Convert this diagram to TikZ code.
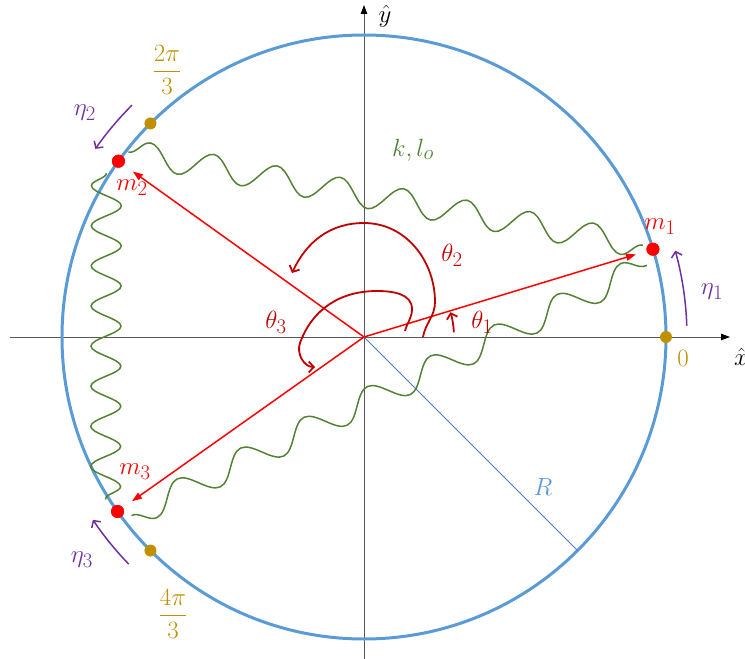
\documentclass[tikz,border=0pt]{standalone}
\usepackage{amsmath}
\usetikzlibrary{decorations.pathmorphing,arrows.meta,calc}
\definecolor{cblue}{HTML}{5B9BD5}
\definecolor{rblue}{HTML}{4A7FCB}
\definecolor{cgold}{HTML}{BF9000}
\definecolor{cred}{HTML}{FF0000}
\definecolor{cdred}{HTML}{C00000}
\definecolor{cgreen}{HTML}{548235}
\definecolor{cpurple}{HTML}{7030A0}
\definecolor{caxis}{HTML}{595959}
\tikzset{
  axisline/.style={draw=caxis, line width=0.8pt, -{Triangle[length=9pt,width=6.5pt,color=black]}},
  mass/.style={circle, fill=cred, inner sep=0pt, minimum size=13pt},
  goldpt/.style={circle, fill=cgold, inner sep=0pt, minimum size=12pt},
  vec/.style={draw=cred, line width=1.5pt, -{Triangle[length=10pt,width=7pt]}, shorten >=11pt},
  spring/.style={draw=cgreen, line width=1.5pt, decorate},
  angarc/.style={draw=cdred, line width=1.8pt, -{Straight Barb[length=5pt,width=11pt]}},
  etaarc/.style={draw=cpurple, line width=1.5pt, -{Straight Barb[length=5pt,width=11pt]}},
  lbl/.style={inner sep=0pt},
  fraclbl/.style={inner sep=0pt, font=\fontsize{24.88}{30}\selectfont},
}
\begin{document}
\begin{tikzpicture}[x=1pt,y=1pt,font=\fontsize{24.88}{30}\selectfont]
\useasboundingbox (-364,-322) rectangle (381,337);
% axes
\coordinate (O) at (0,0);
\coordinate (xl) at (-354,0);
\coordinate (xr) at (366,0);
\coordinate (yb) at (0,-330);
\coordinate (yt) at (0,332);
\draw[axisline] (xl) -- (xr);
\draw[axisline] (yb) -- (yt);
\node[lbl] (xhat) at (377,-20) {$\hat{x}$};
\node[lbl] (yhat) at (21,321) {$\hat{y}$};
% circle and radius
\draw[cblue, line width=3pt] (O) circle (302);
\coordinate (Rend) at (-45:302);
\draw[rblue, line width=0.8pt] (O) -- (Rend);
\node[lbl, text=cblue] (Rlab) at (179,-150) {$R$};
% reference points
\node[goldpt] (p0) at (0:302) {};
\node[goldpt] (p1) at (135:302) {};
\node[goldpt] (p2) at (225:302) {};
\node[lbl, text=cgold] (l0) at (319,-21) {$0$};
\node[fraclbl, text=cgold] (l1) at (-197,267) {$\dfrac{2\pi}{3}$};
\node[fraclbl, text=cgold] (l2) at (-191,-277) {$\dfrac{4\pi}{3}$};
% masses
\node[mass] (m1) at (16.9:302) {};
\node[mass] (m2) at (144.4:302) {};
\node[mass] (m3) at (215.3:302) {};
% springs
\draw[spring, decoration={snake, segment length=64.3pt, amplitude=13pt}]
  ($(m2)+(10,9)$) -- ($(m1)+(-10,4)$);
\draw[spring, decoration={snake, segment length=40.1pt, amplitude=15pt, mirror}]
  ($(m2)+(-12,-12)$) -- ($(m3)+(-12,12)$);
\draw[spring, decoration={snake, segment length=70.4pt, amplitude=13pt, mirror}]
  ($(m3)+(14,-4)$) -- ($(m1)+(-6,-16)$);
\node[lbl, text=cgreen] (klab) at (49,187) {$k, l_o$};
% position vectors
\draw[vec] (O) -- (m1);
\draw[vec] (O) -- (m2);
\draw[vec] (O) -- (m3);
\node[mass] at (m1) {};
\node[mass] at (m2) {};
\node[mass] at (m3) {};
\node[lbl, text=cred] (lm1) at (296,110) {$m_1$};
\node[lbl, text=cred] (lm2) at (-232,149) {$m_2$};
\node[lbl, text=cred] (lm3) at (-229,-135) {$m_3$};
% angles
\draw[angarc] (3:90) arc[start angle=3, end angle=16, radius=90];
\draw[angarc] (59,0) to[out=80,in=-90] (71,35) to[out=90,in=0] (0,114) to[out=180,in=65] (-72,64);
\draw[angarc] (41,6) to[out=75,in=-90] (48,28) to[out=90,in=0] (13,46) to[out=180,in=70] (-64,-6) to[out=-110,in=180] (-49,-30);
\node[lbl, text=cdred] (t1) at (118,15) {$\theta_1$};
\node[lbl, text=cdred] (t2) at (88,82) {$\theta_2$};
\node[lbl, text=cdred] (t3) at (-88,15) {$\theta_3$};
% eta arrows
\draw[etaarc] (2:323) arc[start angle=2, end angle=15.5, radius=323];
\draw[etaarc] (135:328) arc[start angle=135, end angle=145, radius=328];
\draw[etaarc] (224:327) arc[start angle=224, end angle=214, radius=327];
\node[lbl, text=cpurple] (e1) at (348,45) {$\eta_1$};
\node[lbl, text=cpurple] (e2) at (-279,224) {$\eta_2$};
\node[lbl, text=cpurple] (e3) at (-282,-223) {$\eta_3$};
\end{tikzpicture}
\end{document}
